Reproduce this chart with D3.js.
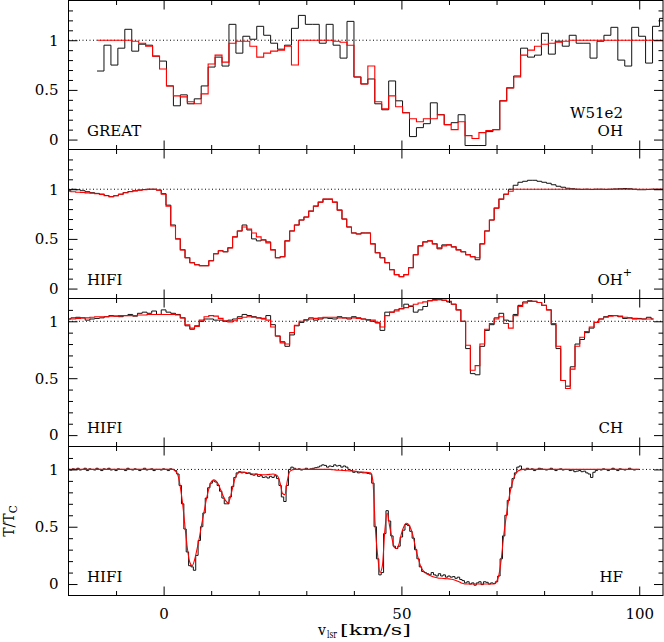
<!DOCTYPE html>
<html><head><meta charset="utf-8">
<script src="https://cdn.jsdelivr.net/npm/d3@7"></script>
<style>body{margin:0;background:#fff}</style>
</head><body>
<script>
// ---------------- DATA ----------------
// Tick labels / values
const xMajorTicks = [0, 50, 100];
const xMinorTicks = [-10, 10, 20, 30, 40, 60, 70, 80, 90];
const yMajorTicks = [0, 0.5, 1];
const yMinorTicksTall = [0.1, 0.2, 0.3, 0.4, 0.6, 0.7, 0.8, 0.9, 1.1, 1.2, 1.3];
const yMinorTicksShort = [0.1, 0.2, 0.3, 0.4, 0.6, 0.7, 0.8, 0.9, 1.1];

// Panel 1: OH (GREAT), channel histogram, first channel edge and width (km/s)
const ohStart = -14.0, ohWidth = 1.46;
const ohObs = [0.69,0.95,0.75,0.92,1.11,0.89,0.96,0.95,0.84,0.79,
  0.54,0.34,0.45,0.36,0.41,0.54,0.73,0.83,0.74,1.16,
  0.87,1.04,1.01,1.14,1.05,0.97,0.91,0.95,1.12,1.25,
  1.16,1.16,0.97,1.16,0.95,0.82,1.19,0.63,0.56,0.61,
  0.36,0.30,0.59,0.39,0.27,0.03,0.12,0.16,0.37,0.25,
  0.15,0.17,0.25,-0.06,-0.06,-0.06,0.08,0.10,0.39,0.52,
  0.64,0.92,0.83,0.85,1.07,0.86,0.99,0.94,1.05,0.97,
  0.97,0.82,0.99,1.05,1.13,0.80,0.74,1.13,1.04,0.77,1.14,1.22];
const ohModel = [1,1,1,1,1,0.99,0.97,0.94,0.84,0.71,
  0.54,0.44,0.43,0.38,0.36,0.46,0.76,0.85,0.78,0.97,
  0.99,0.99,0.94,0.83,0.87,0.89,0.90,0.94,0.75,1,
  1,1,1,1,0.99,0.98,0.95,0.63,0.56,0.74,
  0.38,0.31,0.44,0.33,0.27,0.21,0.18,0.21,0.21,0.25,
  0.15,0.10,0.18,0.04,0.01,0.07,0.09,0.10,0.39,0.52,
  0.63,0.85,0.90,0.94,0.96,0.97,0.98,0.99,1,1,
  1,1,1,1,1,1,1,1,1,1,1,1];

// Panel 2: OH+ (HIFI), v = -20 ... 105 step 1
const ohpStart = -20, ohpStep = 1;
const ohpObs = [0.99,1.0,0.995,0.985,0.975,0.965,0.958,0.95,0.937,0.925,
  0.935,0.95,0.966,0.977,0.985,0.992,0.997,1.0,1.0,0.992,
  0.955,0.84,0.64,0.50,0.39,0.31,0.26,0.24,0.23,0.23,
  0.28,0.35,0.38,0.37,0.41,0.52,0.58,0.64,0.59,0.50,
  0.48,0.49,0.47,0.39,0.31,0.32,0.48,0.58,0.64,0.69,
  0.72,0.78,0.83,0.87,0.90,0.90,0.87,0.79,0.70,0.62,
  0.56,0.55,0.56,0.56,0.45,0.36,0.31,0.26,0.19,0.14,
  0.12,0.14,0.21,0.34,0.43,0.47,0.48,0.45,0.40,0.44,
  0.44,0.42,0.39,0.37,0.34,0.32,0.29,0.45,0.58,0.69,
  0.81,0.90,0.95,1.0,1.04,1.07,1.08,1.09,1.09,1.08,
  1.07,1.06,1.045,1.03,1.02,1.01,1.005,1.0,0.998,1.0,
  0.997,1.0,1.0,0.998,1.0,1.003,1.005,1.007,1.005,1.0,
  0.995,0.995,0.997,1.0,1.0,1.0];
const ohpModel = [0.98,0.975,0.97,0.967,0.963,0.96,0.955,0.948,0.935,0.925,
  0.935,0.95,0.965,0.975,0.983,0.99,0.995,1.0,1.0,0.99,
  0.95,0.83,0.63,0.50,0.39,0.31,0.26,0.24,0.23,0.23,
  0.28,0.35,0.38,0.37,0.41,0.52,0.58,0.62,0.60,0.56,
  0.52,0.49,0.46,0.39,0.31,0.32,0.48,0.58,0.64,0.69,
  0.72,0.78,0.83,0.87,0.90,0.90,0.87,0.79,0.70,0.62,
  0.56,0.55,0.56,0.56,0.45,0.36,0.31,0.26,0.19,0.14,
  0.12,0.14,0.21,0.34,0.43,0.47,0.48,0.45,0.41,0.43,
  0.44,0.42,0.39,0.37,0.34,0.32,0.31,0.45,0.58,0.69,
  0.81,0.90,0.95,0.98,1,1,1,1,1,1,
  1,1,1,1,1,1,1,1,1,1,
  1,1,1,1,1,1,1,1,1,1,
  1,1,1,1,1,1];

// Panel 3: CH (HIFI), v = -20 ... 103 step 1
const chStart = -20, chStep = 1;
const chObs = [1.02,1.03,1.035,1.03,1.01,1.02,1.025,1.03,1.04,1.05,
  1.045,1.04,1.05,1.06,1.045,1.07,1.08,1.07,1.09,1.06,
  1.10,1.08,1.07,1.06,1.03,0.96,0.93,0.96,1.0,1.02,
  1.02,1.01,1.01,1.0,1.01,1.02,1.04,1.06,1.05,1.04,
  1.03,1.02,1.05,0.97,0.87,0.82,0.78,0.88,0.96,0.99,
  1.01,1.03,1.01,1.02,1.03,1.025,1.02,1.04,1.03,1.02,
  1.04,1.03,1.02,1.01,1.0,0.985,0.92,1.08,1.08,1.10,
  1.11,1.15,1.13,1.08,1.10,1.13,1.18,1.19,1.19,1.185,
  1.17,1.15,1.10,1.00,0.76,0.54,0.53,0.78,0.92,0.97,
  1.03,1.07,1.01,1.0,1.06,1.14,1.17,1.18,1.175,1.165,
  1.14,1.10,0.97,0.76,0.48,0.43,0.60,0.80,0.84,0.90,
  0.94,0.99,1.02,1.04,1.05,1.05,1.04,1.025,1.03,1.02,
  1.025,1.02,1.035,1.02];
const chModel = [1.02,1.02,1.025,1.03,1.03,1.035,1.04,1.04,1.04,1.045,
  1.045,1.05,1.05,1.05,1.05,1.055,1.055,1.06,1.06,1.06,
  1.06,1.06,1.06,1.055,1.03,0.97,0.94,0.955,1.01,1.04,
  1.05,1.045,1.025,1.005,0.995,1.005,1.025,1.035,1.04,1.035,
  1.03,1.025,1.01,0.95,0.87,0.81,0.80,0.90,0.965,1.0,
  1.015,1.02,1.025,1.03,1.035,1.035,1.035,1.03,1.03,1.03,
  1.03,1.025,1.02,1.015,1.01,0.99,0.95,1.05,1.08,1.09,
  1.11,1.12,1.135,1.15,1.16,1.17,1.18,1.185,1.19,1.185,
  1.175,1.15,1.10,1.00,0.79,0.57,0.61,0.80,0.93,0.98,
  1.02,1.04,0.98,0.94,1.05,1.13,1.16,1.175,1.175,1.165,
  1.14,1.10,0.98,0.78,0.48,0.41,0.58,0.78,0.86,0.91,
  0.95,0.99,1.02,1.035,1.045,1.05,1.045,1.035,1.03,1.025,
  1.02,1.02,1.02,1.02];

// Panel 4: HF (HIFI), v = -20 ... 100 step 0.5
const hfStart = -20, hfStep = 0.5;
const hfObs = [
  1.0,0.995,1.005,1.0,1.01,0.995,1.0,1.01,0.99,1.005,
  1.0,0.995,1.01,1.0,0.99,1.005,1.0,1.01,0.995,1.0,
  0.99,1.005,1.0,1.0,0.99,1.01,1.0,0.995,1.005,1.0,
  0.99,1.0,1.01,0.995,1.0,1.005,0.99,1.0,1.0,0.995,
  1.005,1.0,0.99,1.005,1.0,0.99,0.96,0.86,0.70,0.48,
  0.28,0.16,0.15,0.12,0.25,0.38,0.50,0.62,0.75,0.84,
  0.88,0.90,0.89,0.86,0.81,0.75,0.70,0.70,0.76,0.85,
  0.93,0.97,0.98,0.97,0.975,0.965,0.97,0.955,0.95,0.96,
  0.94,0.945,0.93,0.935,0.925,0.94,0.93,0.945,0.92,0.86,
  0.76,0.72,0.86,1.0,1.02,1.01,1.0,1.005,0.995,1.0,
  1.01,1.0,1.005,1.01,1.015,1.02,1.03,1.04,1.035,1.02,
  1.03,1.025,1.04,1.03,1.035,1.02,1.03,1.02,1.0,0.99,
  0.975,0.98,0.97,0.975,0.97,0.97,0.965,0.96,0.88,0.50,
  0.22,0.08,0.10,0.44,0.64,0.55,0.42,0.33,0.31,0.33,
  0.41,0.47,0.52,0.51,0.46,0.40,0.30,0.22,0.15,0.11,
  0.10,0.09,0.08,0.10,0.08,0.07,0.09,0.07,0.08,0.06,
  0.07,0.06,0.065,0.05,0.06,0.04,0.03,0.01,0.02,0.0,
  0.01,-0.01,0.01,0.02,-0.005,0.02,0.015,0.0,0.01,0.005,
  0.02,0.07,0.22,0.42,0.60,0.73,0.84,0.92,0.97,1.02,
  1.03,1.0,0.995,1.01,1.0,1.005,0.99,1.0,1.01,1.005,
  1.0,0.995,1.0,1.01,1.0,0.99,1.0,1.005,0.995,1.0,
  1.0,0.99,0.995,0.98,0.985,0.99,0.98,0.985,0.97,0.96,
  0.93,0.975,0.99,1.0,0.995,1.005,1.0,0.99,1.0,1.01,
  1.0,0.99,1.005,1.0,0.995,1.0,1.01,1.0,0.995,1.0,
  1.0];
const hfModel = [
  1,1,1,1,1,1,1,1,1,1,
  1,1,1,1,1,1,1,1,1,1,
  1,1,1,1,1,1,1,1,1,1,
  1,1,1,1,1,1,1,1,1,1,
  1,1,1,1,1,0.985,0.95,0.85,0.70,0.50,
  0.31,0.19,0.16,0.21,0.30,0.40,0.52,0.63,0.74,0.83,
  0.89,0.91,0.90,0.87,0.82,0.77,0.73,0.71,0.75,0.84,
  0.92,0.96,0.975,0.977,0.975,0.97,0.965,0.962,0.96,0.958,
  0.956,0.955,0.953,0.953,0.955,0.958,0.96,0.955,0.94,0.88,
  0.79,0.78,0.90,0.98,0.995,1,1,1,1,1,
  1,1,1,1,1,1,1,1,1,1,
  1,0.998,0.995,0.994,0.993,0.992,0.99,0.989,0.987,0.986,
  0.985,0.983,0.98,0.978,0.977,0.975,0.973,0.97,0.90,0.50,
  0.25,0.10,0.16,0.46,0.62,0.51,0.40,0.32,0.31,0.35,
  0.44,0.50,0.53,0.52,0.48,0.41,0.31,0.23,0.16,0.12,
  0.10,0.085,0.075,0.065,0.06,0.055,0.05,0.05,0.048,0.046,
  0.045,0.042,0.038,0.03,0.022,0.012,0.005,0,0,0,
  0,0,0,0,0,0,0,0,0,0,
  0.02,0.08,0.22,0.42,0.58,0.72,0.83,0.91,0.96,0.985,
  0.995,1,1,1,1,1,1,1,1,1,
  1,1,1,1,1,1,1,1,1,1,
  1,1,1,1,1,1,1,1,1,1,
  1,1,1,1,1,1,1,1,1,1,
  1,1,1,1,1,1,1,1,1,1,
  1];

// ---------------- DRAW ----------------
const W = 664, H = 642;
const FONT = "DejaVu Serif";
const svg = d3.select("body").append("svg")
  .attr("width", W).attr("height", H)
  .style("font-family", FONT);

const x = d3.scaleLinear().domain([-20, 105]).range([68.5, 663]);

const toGrid = (arr, start, step) => arr.map((v, i) => [start + i * step, v]);
const toEdges = (arr, start, w) => {
  const p = arr.map((v, i) => [start + i * w, v]);
  p.push([start + arr.length * w, arr[arr.length - 1]]);
  return p;
};

const panels = [
  {top: 0.5, bottom: 149.5, dom: [-0.1, 1.4], minor: yMinorTicksTall,
   leftLabel: "GREAT", rightLabels: [["W51e2", 118]], species: "OH", sup: null,
   obs: toEdges(ohObs, ohStart, ohWidth), mod: toEdges(ohModel, ohStart, ohWidth),
   obsCurve: d3.curveStepAfter, modCurve: d3.curveStepAfter},
  {top: 149.5, bottom: 298.5, dom: [-0.1, 1.4], minor: yMinorTicksTall,
   leftLabel: "HIFI", rightLabels: [], species: "OH", sup: "+",
   obs: toGrid(ohpObs, ohpStart, ohpStep), mod: toGrid(ohpModel, ohpStart, ohpStep),
   obsCurve: d3.curveStep, modCurve: d3.curveStep},
  {top: 298.5, bottom: 446.5, dom: [-0.1, 1.2], minor: yMinorTicksShort,
   leftLabel: "HIFI", rightLabels: [], species: "CH", sup: null,
   obs: toGrid(chObs, chStart, chStep), mod: toGrid(chModel, chStart, chStep),
   obsCurve: d3.curveStep, modCurve: d3.curveStep},
  {top: 446.5, bottom: 595.5, dom: [-0.1, 1.2], minor: yMinorTicksShort,
   leftLabel: "HIFI", rightLabels: [], species: "HF", sup: null,
   obs: toGrid(hfObs, hfStart, hfStep), mod: toGrid(hfModel, hfStart, hfStep),
   obsCurve: d3.curveStep, modCurve: d3.curveMonotoneX}
];

const x0 = x.range()[0], x1 = x.range()[1];
const defs = svg.append("defs");

function styleAxis(g) {
  g.select(".domain").remove();
  g.selectAll("line").attr("stroke", "#000").attr("stroke-width", 1);
  g.selectAll("text").attr("font-family", FONT).attr("font-size", 15).attr("fill", "#000");
}

panels.forEach((p, i) => {
  const y = d3.scaleLinear().domain(p.dom).range([p.bottom, p.top]);
  const g = svg.append("g");

  defs.append("clipPath").attr("id", "clip" + i)
    .append("rect").attr("x", x0).attr("y", p.top)
    .attr("width", x1 - x0).attr("height", p.bottom - p.top);

  // dotted continuum line
  g.append("line").attr("x1", x0).attr("x2", x1)
    .attr("y1", y(1)).attr("y2", y(1))
    .attr("stroke", "#000").attr("stroke-width", 1)
    .attr("stroke-dasharray", "1,2.5");

  const plot = g.append("g").attr("clip-path", `url(#clip${i})`);
  plot.append("path").datum(p.obs)
    .attr("d", d3.line().x(d => x(d[0])).y(d => y(d[1])).curve(p.obsCurve))
    .attr("fill", "none").attr("stroke", "#111").attr("stroke-width", 1);
  plot.append("path").datum(p.mod)
    .attr("d", d3.line().x(d => x(d[0])).y(d => y(d[1])).curve(p.modCurve))
    .attr("fill", "none").attr("stroke", "#ff0000").attr("stroke-width", 1.1);

  // axes: ticks inward on all sides
  g.append("g").attr("transform", `translate(${x0},0)`)
    .call(d3.axisLeft(y).tickValues(p.minor).tickSize(-4.5).tickFormat(""))
    .call(styleAxis);
  g.append("g").attr("transform", `translate(${x0},0)`)
    .call(d3.axisLeft(y).tickValues(yMajorTicks).tickSize(-9).tickPadding(10).tickFormat(d => String(d)))
    .call(styleAxis);
  g.append("g").attr("transform", `translate(${x1},0)`)
    .call(d3.axisRight(y).tickValues(p.minor).tickSize(-4.5).tickFormat(""))
    .call(styleAxis);
  g.append("g").attr("transform", `translate(${x1},0)`)
    .call(d3.axisRight(y).tickValues(yMajorTicks).tickSize(-9).tickFormat(""))
    .call(styleAxis);

  g.append("g").attr("transform", `translate(0,${p.top})`)
    .call(d3.axisTop(x).tickValues(xMinorTicks).tickSize(-4.5).tickFormat(""))
    .call(styleAxis);
  g.append("g").attr("transform", `translate(0,${p.top})`)
    .call(d3.axisTop(x).tickValues(xMajorTicks).tickSize(-9).tickFormat(""))
    .call(styleAxis);
  g.append("g").attr("transform", `translate(0,${p.bottom})`)
    .call(d3.axisBottom(x).tickValues(xMinorTicks).tickSize(-4.5).tickFormat(""))
    .call(styleAxis);
  const last = i === panels.length - 1;
  g.append("g").attr("transform", `translate(0,${p.bottom})`)
    .call(d3.axisBottom(x).tickValues(xMajorTicks).tickSize(-9).tickPadding(13)
      .tickFormat(last ? (d => String(d)) : ""))
    .call(styleAxis);

  // frame
  g.append("rect").attr("x", x0).attr("y", p.top)
    .attr("width", x1 - x0).attr("height", p.bottom - p.top)
    .attr("fill", "none").attr("stroke", "#000").attr("stroke-width", 1);

  // labels
  const base = p.bottom - 13.5;
  g.append("text").attr("x", 87).attr("y", base)
    .attr("font-size", 15).text(p.leftLabel);
  p.rightLabels.forEach(r => {
    g.append("text").attr("x", 623).attr("y", r[1])
      .attr("text-anchor", "end").attr("font-size", 15).text(r[0]);
  });
  const sp = g.append("text").attr("y", base).attr("font-size", 15)
    .attr("text-anchor", "end")
    .attr("x", p.sup ? 632 : 623);
  sp.append("tspan").text(p.species);
  if (p.sup) sp.append("tspan").attr("font-size", 11).attr("dy", -9).text(p.sup);
});

// x-axis title: v_lsr [km/s]
const xt = svg.append("g").attr("font-family", FONT);
xt.append("text").attr("x", 318).attr("y", 634.5).attr("font-size", 14).text("v");
xt.append("text").attr("x", 327).attr("y", 638).attr("font-size", 10.5)
  .attr("textLength", 10).attr("lengthAdjust", "spacingAndGlyphs").text("lsr");
xt.append("text").attr("x", 340).attr("y", 634.5).attr("font-size", 14)
  .attr("textLength", 71).attr("lengthAdjust", "spacingAndGlyphs").text("[km/s]");

// y-axis title: T/T_C
const yt = svg.append("text").attr("font-family", FONT)
  .attr("transform", "translate(13.5,521) rotate(-90)")
  .attr("text-anchor", "middle").attr("font-size", 14);
yt.append("tspan").text("T/T");
yt.append("tspan").attr("font-size", 10.5).attr("dy", 3.5).text("C");
</script>
</body></html>
